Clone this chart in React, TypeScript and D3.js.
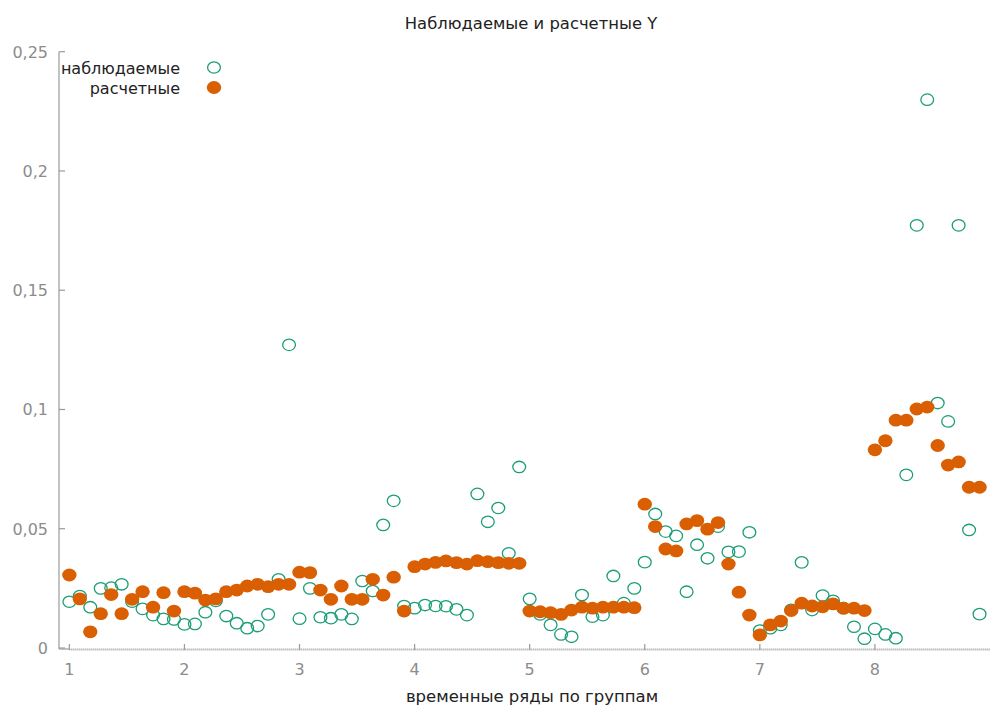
import React from "react";
import * as d3 from "d3";

// Observed and fitted Y, 8 groups x 11 time points
const observed: number[] = [
  0.0194, 0.0218, 0.0171, 0.025, 0.0253, 0.0267, 0.0194, 0.0164, 0.0138, 0.0122, 0.012,
  0.0099, 0.0101, 0.015, 0.0197, 0.0134, 0.0104, 0.0083, 0.0092, 0.0141, 0.0288, 0.1271,
  0.0123, 0.025, 0.0129, 0.0125, 0.0141, 0.0122, 0.0281, 0.0239, 0.0516, 0.0617, 0.0176,
  0.0167, 0.018, 0.0176, 0.0175, 0.0162, 0.0138, 0.0646, 0.0529, 0.0587, 0.0397, 0.0759,
  0.0206, 0.0141, 0.0097, 0.0057, 0.0047, 0.0222, 0.0131, 0.0138, 0.0302, 0.0188, 0.025,
  0.036, 0.0562, 0.0488, 0.047, 0.0236, 0.0433, 0.0376, 0.0509, 0.0403, 0.0404, 0.0485,
  0.0073, 0.0083, 0.0097, 0.016, 0.0359, 0.0159, 0.022, 0.0198, 0.0167, 0.0089, 0.0039,
  0.008, 0.0057, 0.0041, 0.0726, 0.1772, 0.2299, 0.1027, 0.095, 0.1772, 0.0495, 0.0142,
];

const fitted: number[] = [
  0.0306, 0.0206, 0.0068, 0.0144, 0.0224, 0.0144, 0.0204, 0.0236, 0.0171, 0.0232, 0.0155,
  0.0236, 0.023, 0.0201, 0.0206, 0.0236, 0.0243, 0.026, 0.0267, 0.0257, 0.0267, 0.0267,
  0.0318, 0.0316, 0.0243, 0.0204, 0.026, 0.0204, 0.0204, 0.0288, 0.0222, 0.0297, 0.0155,
  0.0341, 0.0352, 0.0359, 0.0365, 0.0358, 0.0352, 0.0366, 0.0362, 0.0358, 0.0355, 0.0355,
  0.0155, 0.0152, 0.0148, 0.0141, 0.0159, 0.0171, 0.0167, 0.0171, 0.0171, 0.0171, 0.0169,
  0.0603, 0.0509, 0.0415, 0.0407, 0.052, 0.0534, 0.0498, 0.0526, 0.0352, 0.0234, 0.0138,
  0.0055, 0.0097, 0.0113, 0.0157, 0.0188, 0.0176, 0.0173, 0.0185, 0.0167, 0.0167, 0.0157,
  0.0831, 0.0869, 0.0955, 0.0955, 0.1002, 0.101, 0.0849, 0.0767, 0.078, 0.0674, 0.0674,
];

const pointsPerGroup = 11;
const xTicks: number[] = [1, 2, 3, 4, 5, 6, 7, 8];
const yTicks: number[] = [0, 0.05, 0.1, 0.15, 0.2, 0.25];
const seriesNames: string[] = ["наблюдаемые", "расчетные"];

const title = "Наблюдаемые и расчетные Y";
const xTitle = "временные ряды по группам";

const GREEN = "#1b9e77";
const ORANGE = "#d95f02";
const AXIS = "#9a9a9a";
const LABEL = "#8c8c8c";
const FONT = "'DejaVu Sans', Verdana, sans-serif";

export default function App() {
  const W = 990;
  const H = 706;
  const left = 59;
  const right = 990;
  const top = 51.7;
  const bottom = 648;

  const x = d3.scaleLinear().domain([0.91, 9]).range([left, right]);
  const y = d3.scaleLinear().domain([0, 0.25]).range([bottom, top]);
  const xOf = (i: number) => x(1 + i / pointsPerGroup);
  const fmt = (v: number) => d3.format("~g")(+v.toFixed(2)).replace(".", ",");

  return (
    <svg
      width={W}
      height={H}
      style={{ position: "absolute", left: 0, top: 0, background: "#fff" }}
      fontFamily={FONT}
    >
      <text x={531} y={29} textAnchor="middle" fontSize={16.4} fill="#222">
        {title}
      </text>

      {/* y axis */}
      <line x1={left} x2={left} y1={top} y2={bottom + 1} stroke={AXIS} strokeWidth={1.2} />
      {yTicks.map((t) => (
        <g key={"y" + t}>
          <line x1={left} x2={left + 6} y1={y(t)} y2={y(t)} stroke={AXIS} strokeWidth={1.2} />
          <text x={48} y={y(t) + 6} textAnchor="end" fontSize={16} fill={LABEL}>
            {fmt(t)}
          </text>
        </g>
      ))}

      {/* x axis */}
      <line x1={left} x2={x(1)} y1={bottom + 1} y2={bottom + 1} stroke={AXIS} strokeWidth={1.2} />
      <line
        x1={x(1)}
        x2={right}
        y1={bottom + 1.5}
        y2={bottom + 1.5}
        stroke={AXIS}
        strokeWidth={2}
        strokeDasharray="1,1"
      />
      {xTicks.map((t) => (
        <g key={"x" + t}>
          <line x1={x(t)} x2={x(t)} y1={bottom - 4} y2={bottom + 2} stroke={AXIS} strokeWidth={1.2} />
          <text x={x(t)} y={675} textAnchor="middle" fontSize={16} fill={LABEL}>
            {t}
          </text>
        </g>
      ))}
      <text x={532} y={702} textAnchor="middle" fontSize={16.5} fill="#222">
        {xTitle}
      </text>

      {/* observed: hollow markers */}
      {observed.map((v, i) => (
        <ellipse
          key={"o" + i}
          cx={xOf(i)}
          cy={y(v)}
          rx={6.4}
          ry={5.7}
          fill="none"
          stroke={GREEN}
          strokeWidth={1.3}
        />
      ))}
      {/* fitted: filled markers */}
      {fitted.map((v, i) => (
        <ellipse key={"f" + i} cx={xOf(i)} cy={y(v)} rx={7.2} ry={6.4} fill={ORANGE} />
      ))}

      {/* legend */}
      <text x={180} y={74} textAnchor="end" fontSize={16} fill="#222">
        {seriesNames[0]}
      </text>
      <ellipse cx={214} cy={67.5} rx={6.4} ry={5.7} fill="none" stroke={GREEN} strokeWidth={1.3} />
      <text x={180} y={94} textAnchor="end" fontSize={16} fill="#222">
        {seriesNames[1]}
      </text>
      <ellipse cx={214} cy={87.5} rx={7.2} ry={6.4} fill={ORANGE} />
    </svg>
  );
}
